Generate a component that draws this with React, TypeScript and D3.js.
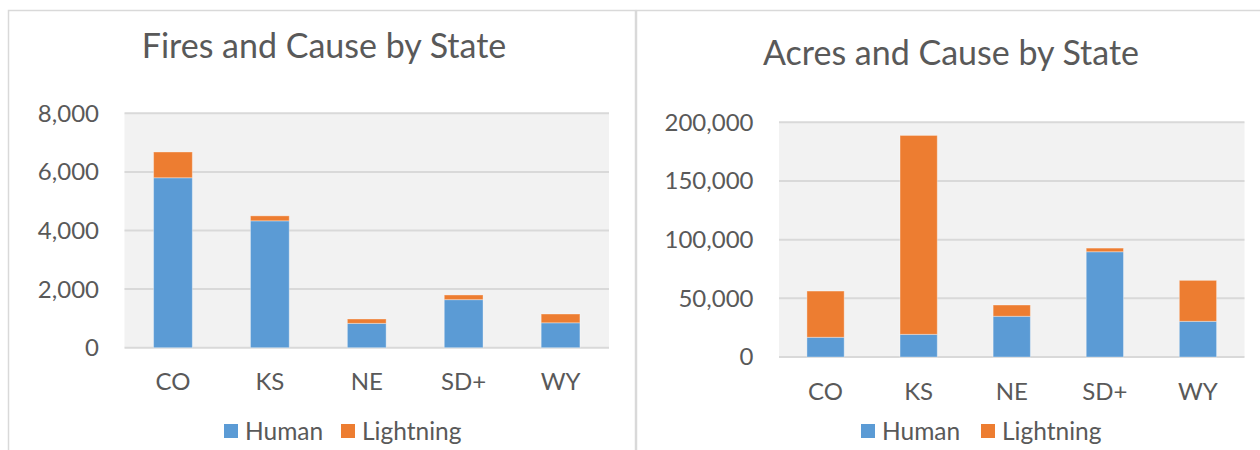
import * as d3 from "d3";
import { useEffect, useRef } from "react";

const states = ["CO", "KS", "NE", "SD+", "WY"];
const seriesNames = ["Human", "Lightning"];

const firesHuman = [5800, 4330, 830, 1640, 850];
const firesLightning = [880, 170, 150, 160, 300];
const firesTicks = [0, 2000, 4000, 6000, 8000];

const acresHuman = [16800, 19300, 34700, 89700, 30400];
const acresLightning = [39400, 169500, 9600, 3100, 34900];
const acresTicks = [0, 50000, 100000, 150000, 200000];

const colors = ["#5B9BD5", "#ED7D31"];
const textColor = "#595959";
const font = "Lato, 'Open Sans', sans-serif";

const width = 1260;
const height = 450;

function drawChart(svg, opts) {
  const { title, human, lightning, ticks, box } = opts;
  const g = svg.append("g");

  const x = d3.scaleBand().domain(states).range([box.left, box.right]).paddingInner(0.6).paddingOuter(0.3);
  const y = d3.scaleLinear().domain([0, d3.max(ticks)]).range([box.bottom, box.top]);

  // plot background
  g.append("rect")
    .attr("x", box.left)
    .attr("y", box.top)
    .attr("width", box.right - box.left)
    .attr("height", box.bottom - box.top)
    .attr("fill", "#F2F2F2");

  // gridlines + tick labels
  ticks.forEach(t => {
    g.append("line")
      .attr("x1", box.left)
      .attr("x2", box.right)
      .attr("y1", y(t))
      .attr("y2", y(t))
      .attr("stroke", "#D9D9D9")
      .attr("stroke-width", 2);
    g.append("text")
      .attr("x", box.labelX)
      .attr("y", y(t))
      .attr("dy", "0.35em")
      .attr("text-anchor", "end")
      .style("font-size", "24px")
      .style("fill", textColor)
      .text(d3.format(",")(t));
  });

  // stacked bars
  const rows = states.map((s, i) => ({ state: s, Human: human[i], Lightning: lightning[i] }));
  const stacked = d3.stack().keys(seriesNames)(rows);
  stacked.forEach((layer, li) => {
    g.append("g")
      .selectAll("rect")
      .data(layer)
      .enter()
      .append("rect")
      .attr("x", d => x(d.data.state))
      .attr("width", x.bandwidth())
      .attr("y", d => y(d[1]))
      .attr("height", d => y(d[0]) - y(d[1]))
      .attr("fill", colors[li])
      .attr("stroke", "#ffffff")
      .attr("stroke-opacity", 0.35)
      .attr("stroke-width", 1);
  });

  // category labels
  states.forEach(s => {
    g.append("text")
      .attr("x", x(s) + x.bandwidth() / 2)
      .attr("y", box.xLabelY)
      .attr("text-anchor", "middle")
      .style("font-size", "24px")
      .style("fill", textColor)
      .text(s);
  });

  // title
  g.append("text")
    .attr("x", box.titleX)
    .attr("y", box.titleY)
    .attr("text-anchor", "middle")
    .style("font-size", "34px")
    .style("fill", textColor)
    .text(title);

  // legend
  seriesNames.forEach((name, i) => {
    const lx = box.legendX[i];
    g.append("rect")
      .attr("x", lx)
      .attr("y", box.legendY - 7)
      .attr("width", 14)
      .attr("height", 14)
      .attr("fill", colors[i]);
    g.append("text")
      .attr("x", lx + 21)
      .attr("y", box.legendY)
      .attr("dy", "0.35em")
      .style("font-size", "24.5px")
      .style("fill", textColor)
      .text(name);
  });
}

export default function App() {
  const svgRef = useRef(null);

  useEffect(() => {
    const svg = d3.select(svgRef.current);
    svg.selectAll("*").remove();
    svg.style("font-family", font);

    svg.append("rect").attr("width", width).attr("height", height).attr("fill", "#ffffff");

    // chart frames
    svg.append("rect")
      .attr("x", 8.5)
      .attr("y", 10.5)
      .attr("width", 627)
      .attr("height", 460)
      .attr("fill", "none")
      .attr("stroke", "#D9D9D9")
      .attr("stroke-width", 1.5);
    svg.append("rect")
      .attr("x", 636.5)
      .attr("y", 10.5)
      .attr("width", 640)
      .attr("height", 460)
      .attr("fill", "none")
      .attr("stroke", "#D9D9D9")
      .attr("stroke-width", 1.5);

    drawChart(svg, {
      title: "Fires and Cause by State",
      human: firesHuman,
      lightning: firesLightning,
      ticks: firesTicks,
      box: {
        left: 124.5, right: 609, top: 113.3, bottom: 347.7,
        labelX: 99, titleX: 324, titleY: 58, xLabelY: 390,
        legendY: 431, legendX: [224, 341],
      },
    });

    drawChart(svg, {
      title: "Acres and Cause by State",
      human: acresHuman,
      lightning: acresLightning,
      ticks: acresTicks,
      box: {
        left: 779, right: 1244.5, top: 122.3, bottom: 357,
        labelX: 753.5, titleX: 951, titleY: 65, xLabelY: 400,
        legendY: 431, legendX: [861, 981],
      },
    });
  }, []);

  return (
    <svg
      ref={svgRef}
      width={width}
      height={height}
      style={{ position: "absolute", left: 0, top: 0, display: "block" }}
    ></svg>
  );
}
